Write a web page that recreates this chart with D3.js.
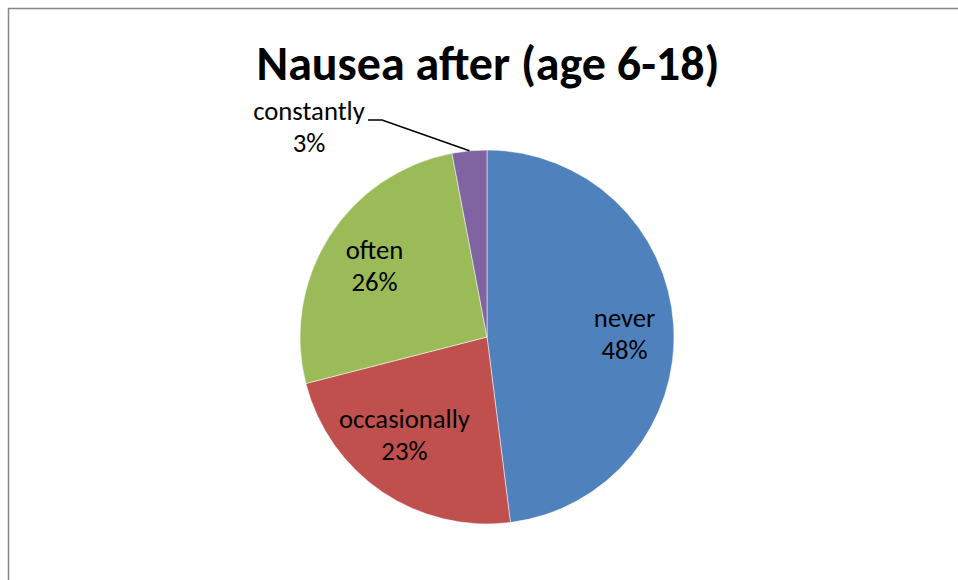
<!DOCTYPE html>
<html>
<head>
<meta charset="utf-8">
<script src="https://cdn.jsdelivr.net/npm/d3@7"></script>
<style>
body { margin: 0; background: #fff; }
text { font-family: Carlito, "Liberation Sans", "Open Sans", sans-serif; }
</style>
</head>
<body>
<script>
// chart data
var categories = ["never", "occasionally", "often", "constantly"];
var values = [48, 23, 26, 3];
var colors = ["#4F81BD", "#C0504D", "#9BBB59", "#8064A2"];

var width = 958,
    height = 580;

var svg = d3.select("body")
    .append("svg")
    .attr("width", width)
    .attr("height", height);

// chart frame
svg.append("rect")
    .attr("x", 8.5).attr("y", 8.5)
    .attr("width", width).attr("height", height)
    .attr("fill", "none")
    .attr("stroke", "#868686")
    .attr("stroke-width", 1.5);

svg.append("text")
    .attr("x", 488)
    .attr("y", 80)
    .attr("text-anchor", "middle")
    .attr("font-size", 48)
    .attr("font-weight", "bold")
    .text("Nausea after (age 6-18)");

var cx = 487, cy = 337, r = 187;

var pie = d3.pie().sort(null).value(function(d){ return d; });
var arcs = pie(values);

var arc = d3.arc().innerRadius(0).outerRadius(r);

var g = svg.append("g").attr("transform", "translate(" + cx + "," + cy + ")");

g.selectAll("path")
    .data(arcs)
    .enter()
    .append("path")
    .attr("d", arc)
    .attr("fill", function(d, i){ return colors[i]; })
    .attr("stroke", "#fff")
    .attr("stroke-width", 0.5);

// labels inside slices (best-fit nudges like excel)
var labelArc = d3.arc().innerRadius(r * 0.7).outerRadius(r * 0.7);
var nudge = {never: [7, -2], occasionally: [-9, -17], often: [-2, -8]};

arcs.forEach(function(d, i){
    var p;
    if (values[i] < 5) {
        // small slice: label outside with leader line
        var a = (d.startAngle + d.endAngle) / 2;
        var edge = [Math.sin(a) * r, -Math.cos(a) * r];
        var lx = -105, ly = -217;
        g.append("polyline")
            .attr("points", [[edge[0], edge[1]], [lx, ly], [lx - 14, ly]].map(function(q){ return q.join(","); }).join(" "))
            .attr("fill", "none")
            .attr("stroke", "#000")
            .attr("stroke-width", 1.5);
        p = [-178, -217];
    } else {
        p = labelArc.centroid(d);
        var n = nudge[categories[i]] || [0, 0];
        p = [p[0] + n[0], p[1] + n[1]];
    }
    var t = g.append("text")
        .attr("text-anchor", "middle")
        .attr("font-size", 26.7)
        .attr("fill", "#000");
    t.append("tspan").attr("x", p[0]).attr("y", p[1]).text(categories[i]);
    t.append("tspan").attr("x", p[0]).attr("y", p[1] + 32).text(values[i] + "%");
});
</script>
</body>
</html>
